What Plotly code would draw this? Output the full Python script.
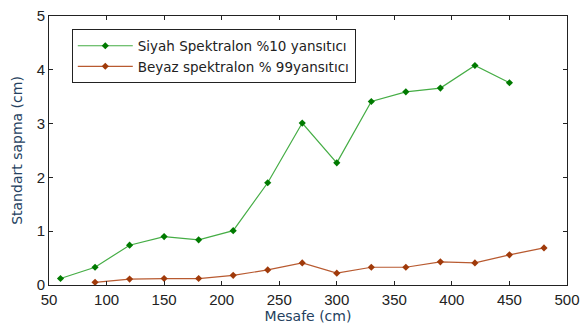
import plotly.graph_objects as go

x_green = [60, 90, 120, 150, 180, 210, 240, 270, 300, 330, 360, 390, 420, 450]
y_green = [0.12, 0.33, 0.74, 0.90, 0.84, 1.01, 1.90, 3.01, 2.27, 3.41, 3.59, 3.66, 4.08, 3.76]

x_brown = [90, 120, 150, 180, 210, 240, 270, 300, 330, 360, 390, 420, 450, 480]
y_brown = [0.05, 0.11, 0.12, 0.12, 0.18, 0.28, 0.41, 0.22, 0.33, 0.33, 0.43, 0.41, 0.56, 0.69]

name_green = "Siyah Spektralon %10 yansıtıcı"
name_brown = "Beyaz spektralon % 99yansıtıcı"

x_ticks = [50, 100, 150, 200, 250, 300, 350, 400, 450, 500]
y_ticks = [0, 1, 2, 3, 4, 5]

fig = go.Figure()
fig.add_trace(go.Scatter(
    x=x_green, y=y_green, mode="lines+markers", name=name_green,
    line=dict(color="#45ad45", width=1.2),
    marker=dict(symbol="diamond", size=5.5, color="#007a00"),
))
fig.add_trace(go.Scatter(
    x=x_brown, y=y_brown, mode="lines+markers", name=name_brown,
    line=dict(color="#b85a30", width=1.2),
    marker=dict(symbol="diamond", size=5.5, color="#a03a0a"),
))

axis_common = dict(
    showgrid=False, zeroline=False, showline=True, linecolor="#222",
    linewidth=1, mirror="ticks", ticks="inside", ticklen=4, tickcolor="#222",
    tickfont=dict(family="Liberation Sans, Arial", size=15, color="#222"),
    automargin=False,
)
fig.update_xaxes(range=[50, 500], tickvals=x_ticks, ticklabelstandoff=1,
                 title=dict(text="Mesafe (cm)", standoff=3,
                            font=dict(family="DejaVu Sans", size=14, color="#243f60")),
                 **axis_common)
fig.update_yaxes(range=[0, 5], tickvals=y_ticks,
                 title=dict(text="Standart sapma (cm)", standoff=10,
                            font=dict(family="DejaVu Sans", size=14, color="#243f60")),
                 **axis_common)

fig.update_layout(
    width=580, height=332,
    margin=dict(l=49, r=13, t=16, b=47),
    paper_bgcolor="white", plot_bgcolor="white",
    showlegend=True,
    legend=dict(
        x=0.044, y=0.95, xanchor="left", yanchor="top",
        bordercolor="#222", borderwidth=1, bgcolor="white",
        font=dict(family="DejaVu Sans", size=13.5, color="#222"),
        itemwidth=55,
    ),
)

fig.write_html("out.html")
